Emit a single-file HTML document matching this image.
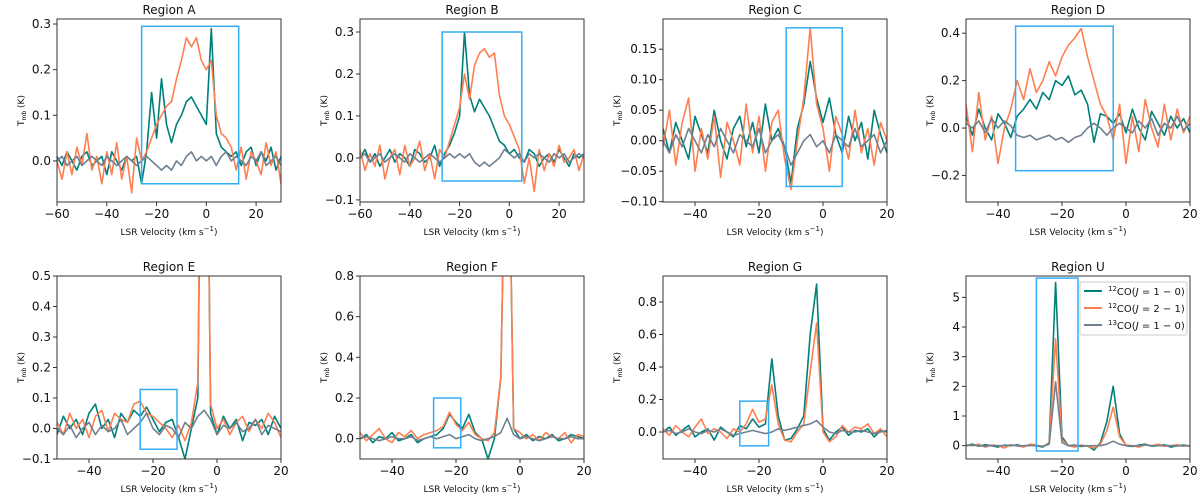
<!DOCTYPE html>
<html><head><meta charset="utf-8"><style>
html,body{margin:0;padding:0;background:#fff;}
svg{display:block;font-family:"DejaVu Sans","Liberation Sans",sans-serif;}
</style></head><body>
<svg id="fig" width="1200" height="498" viewBox="0 0 1200 498"></svg>
<script>
// Velocity grids (km/s)
const gridA = [-60,-58,-56,-54,-52,-50,-48,-46,-44,-42,-40,-38,-36,-34,-32,-30,-28,-26,-24,-22,-20,-18,-16,-14,-12,-10,-8,-6,-4,-2,0,2,4,6,8,10,12,14,16,18,20,22,24,26,28,30];
const gridC = [-50,-48,-46,-44,-42,-40,-38,-36,-34,-32,-30,-28,-26,-24,-22,-20,-18,-16,-14,-12,-10,-8,-6,-4,-2,0,2,4,6,8,10,12,14,16,18,20];
const seriesNames = ["12CO(J=1-0)","12CO(J=2-1)","13CO(J=1-0)"];

const aCO10 = [0.01,-0.01,0.02,0.0,-0.02,0.01,0.02,-0.01,0.0,0.01,-0.03,0.02,0.0,-0.02,0.01,0.0,0.01,-0.05,0.02,0.15,0.05,0.18,0.08,0.04,0.08,0.10,0.13,0.14,0.12,0.10,0.08,0.29,0.06,0.03,0.02,0.01,0.02,-0.01,0.02,0.03,-0.01,0.02,0.0,0.03,-0.02,0.01];
const aCO21 = [0.0,-0.04,0.02,-0.03,0.03,-0.01,0.06,-0.02,0.01,-0.05,0.02,-0.03,0.04,-0.04,0.01,-0.07,0.05,0.0,0.02,0.05,0.08,0.10,0.12,0.13,0.18,0.22,0.27,0.25,0.27,0.22,0.20,0.22,0.10,0.06,0.05,0.03,-0.02,0.03,-0.04,0.02,0.0,-0.03,0.04,-0.01,0.02,-0.05];
const a13CO = [0.0,0.01,-0.01,0.0,0.01,-0.01,0.0,0.01,0.0,-0.01,0.01,0.0,-0.01,0.0,0.01,0.0,-0.01,0.0,0.01,0.0,-0.01,-0.02,-0.01,-0.02,0.0,-0.01,0.01,0.02,0.0,0.01,0.0,0.01,-0.01,0.01,0.02,0.0,0.01,0.0,-0.01,0.01,0.0,0.02,-0.01,0.0,0.01,-0.01];

const bCO10 = [0.0,0.02,-0.01,0.01,-0.02,0.0,0.02,-0.01,0.01,0.0,-0.02,0.02,0.01,-0.01,0.0,0.03,-0.02,0.01,0.03,0.06,0.10,0.30,0.15,0.11,0.14,0.12,0.10,0.07,0.04,0.03,0.01,0.02,0.0,-0.01,0.02,0.01,-0.02,0.0,0.01,-0.01,0.02,0.0,-0.02,0.01,0.0,0.01];
const bCO21 = [0.02,-0.03,0.01,-0.02,0.03,-0.05,0.0,0.02,-0.04,0.03,-0.02,0.0,0.04,-0.03,0.01,-0.05,0.02,0.0,0.04,0.08,0.12,0.20,0.14,0.22,0.25,0.26,0.24,0.25,0.15,0.10,0.08,0.05,0.02,-0.06,0.0,-0.08,0.02,-0.03,0.01,-0.02,0.03,-0.01,0.0,0.02,-0.03,0.01];
const b13CO = [0.0,0.01,-0.01,0.0,0.01,-0.01,0.0,0.01,0.0,-0.01,0.01,0.0,-0.01,0.0,0.01,0.0,-0.01,0.0,0.01,0.0,0.01,0.0,0.01,-0.01,-0.02,-0.01,-0.02,-0.01,0.0,0.02,0.01,0.0,0.01,-0.01,0.01,0.0,0.01,0.0,-0.01,0.01,0.0,0.01,-0.01,0.0,0.01,0.0];

const cCO10 = [0.02,-0.02,0.03,0.0,-0.03,0.04,0.01,-0.02,0.05,0.0,-0.03,0.02,0.04,-0.01,0.03,-0.02,0.06,0.0,0.02,-0.01,-0.07,0.02,0.06,0.13,0.07,0.03,0.07,0.01,-0.02,0.04,0.0,0.03,-0.03,0.05,0.01,-0.02];
const cCO21 = [-0.01,0.05,-0.04,0.03,0.07,-0.05,0.02,-0.03,0.04,-0.06,0.03,0.0,-0.04,0.06,-0.02,0.04,-0.05,0.03,0.05,-0.03,-0.08,0.0,0.07,0.185,0.06,0.02,-0.05,0.04,0.01,-0.03,0.05,-0.02,0.02,-0.04,0.03,0.0];
const c13CO = [0.0,-0.02,0.01,-0.01,0.02,0.0,-0.02,0.01,-0.01,0.02,0.0,-0.02,0.01,0.0,-0.01,0.02,-0.02,0.0,0.01,-0.01,-0.04,-0.02,0.0,0.01,-0.01,0.0,-0.02,0.01,0.0,-0.01,0.02,-0.01,0.0,0.01,-0.02,0.0];

const dCO10 = [0.05,-0.03,0.08,0.0,-0.05,0.06,0.02,-0.04,0.05,0.08,0.12,0.08,0.15,0.12,0.20,0.18,0.22,0.14,0.16,0.10,-0.06,0.06,0.05,0.02,0.06,-0.02,0.08,0.0,-0.05,0.07,0.02,-0.03,0.05,0.0,0.04,-0.02];
const dCO21 = [0.1,-0.1,0.15,-0.05,0.05,-0.15,0.0,0.08,0.2,0.12,0.25,0.15,0.2,0.28,0.22,0.3,0.35,0.38,0.42,0.3,0.2,0.1,0.05,-0.05,0.1,-0.15,0.05,-0.1,0.12,0.0,-0.08,0.1,-0.05,0.08,-0.02,0.05];
const d13CO = [0.02,0.0,0.03,-0.02,0.04,0.0,0.03,0.01,-0.03,-0.04,-0.03,-0.05,-0.04,-0.03,-0.05,-0.04,-0.06,-0.04,-0.03,0.0,0.02,0.0,-0.03,0.0,0.02,0.0,-0.02,0.03,0.0,0.04,-0.03,0.02,0.0,0.05,-0.01,0.02];

const eCO10 = [-0.02,0.04,0.0,0.03,-0.02,0.05,0.08,0.0,0.03,-0.03,0.05,0.02,0.06,0.04,0.07,0.03,-0.01,0.02,0.03,-0.03,-0.1,0.0,0.1,2.0,0.05,-0.02,0.04,0.0,0.03,-0.04,0.02,0.01,0.03,-0.02,0.04,0.0];
const eCO21 = [0.02,-0.02,0.05,0.0,0.03,-0.03,0.04,0.06,-0.01,0.05,0.03,0.02,0.08,0.09,0.05,0.04,0.02,0.0,-0.03,0.01,-0.04,0.02,0.15,2.0,0.08,0.0,0.03,-0.02,0.02,0.04,-0.01,0.03,0.0,0.05,0.02,-0.03];
const e13CO = [0.0,-0.02,0.01,-0.03,0.0,0.02,-0.02,0.01,-0.01,0.0,0.03,-0.02,0.0,0.02,0.05,0.0,-0.02,0.01,0.0,-0.03,0.02,0.0,0.04,0.06,0.03,-0.02,0.01,0.0,0.02,-0.01,0.0,0.03,-0.02,0.01,0.0,-0.01];

const fCO10 = [0.0,0.02,-0.02,0.01,0.0,0.03,-0.01,0.0,0.02,-0.02,0.0,0.01,0.02,0.05,0.12,0.08,0.05,0.12,0.03,0.0,-0.1,0.0,0.3,2.0,0.05,0.0,0.02,-0.01,0.01,0.0,0.02,-0.01,0.0,0.02,0.01,0.0];
const fCO21 = [0.03,-0.01,0.02,0.05,0.0,-0.02,0.03,0.01,0.04,0.0,0.02,0.03,0.04,0.06,0.13,0.07,0.04,0.08,0.02,0.0,-0.01,0.03,0.3,2.0,0.05,0.03,0.0,0.02,-0.01,0.03,0.01,0.0,0.03,-0.02,0.02,0.01];
const f13CO = [0.0,0.01,0.0,-0.01,0.0,0.01,0.0,0.0,0.01,-0.01,0.0,0.01,0.0,0.01,0.02,0.0,0.01,0.02,0.0,-0.01,0.0,0.01,0.03,0.1,0.02,0.0,0.01,0.0,-0.01,0.0,0.01,0.0,0.0,0.01,0.0,0.0];

const gCO10 = [0.0,0.03,-0.02,0.01,0.04,-0.03,0.0,0.02,-0.05,0.03,0.0,-0.03,0.04,0.02,0.08,0.03,0.05,0.45,0.1,-0.05,-0.04,0.02,0.1,0.6,0.91,0.02,-0.05,0.0,0.03,-0.02,0.01,0.0,0.02,-0.03,0.01,0.0];
const gCO21 = [0.02,-0.02,0.04,0.0,-0.03,0.03,0.08,-0.01,0.02,0.0,-0.04,0.02,0.0,0.05,0.14,0.06,0.08,0.29,0.05,-0.05,-0.06,0.0,0.05,0.37,0.67,0.0,-0.06,-0.03,0.04,0.0,0.03,0.02,0.05,-0.01,0.02,-0.03];
const g13CO = [0.0,0.01,-0.01,0.0,0.02,0.0,-0.01,0.01,0.0,0.02,0.0,-0.02,-0.01,0.0,0.01,0.0,-0.01,0.0,0.02,0.01,0.02,0.03,0.04,0.05,0.07,0.03,0.0,-0.01,0.01,0.0,0.0,0.01,0.0,-0.01,0.0,0.01];

const uCO10 = [0.0,0.05,-0.02,0.03,0.0,-0.05,0.02,0.0,0.03,-0.03,0.02,0.0,-0.05,0.1,5.5,0.3,0.0,0.02,-0.03,0.0,-0.15,0.1,0.8,2.0,0.4,0.0,-0.03,0.02,0.05,-0.02,0.0,0.03,-0.05,0.0,0.02,-0.02];
const uCO21 = [0.03,0.0,0.05,-0.05,0.02,0.0,-0.08,0.03,0.0,-0.05,0.05,0.02,-0.03,0.08,3.6,0.2,0.0,-0.05,0.02,-0.02,-0.08,0.05,0.5,1.3,0.3,0.02,0.0,-0.05,0.03,0.0,0.05,-0.02,0.0,0.03,-0.02,0.0];
const u13CO = [0.0,0.02,0.0,-0.02,0.01,0.0,0.0,0.02,-0.01,0.0,0.01,0.0,-0.02,0.05,2.15,0.1,0.0,0.01,0.0,-0.01,0.0,0.0,0.05,0.15,0.05,0.0,-0.01,0.0,0.02,0.0,0.0,0.01,0.0,-0.01,0.0,0.0];

// Panel data (limits / ticks)
const titles = ["Region A","Region B","Region C","Region D","Region E","Region F","Region G","Region U"];
const xLims = [[-60,30],[-60,30],[-50,20],[-50,20],[-50,20],[-50,20],[-50,20],[-50,20]];
const yLims = [[-0.09,0.311],[-0.105,0.331],[-0.1005,0.1995],[-0.312,0.46],[-0.1,0.5],[-0.1,0.8],[-0.166,0.96],[-0.45,5.72]];
const xTicks = [[-60,-40,-20,0,20],[-60,-40,-20,0,20],[-40,-20,0,20],[-40,-20,0,20],[-40,-20,0,20],[-40,-20,0,20],[-40,-20,0,20],[-40,-20,0,20]];
const yTicks = [["0.0","0.1","0.2","0.3"],["−0.1","0.0","0.1","0.2","0.3"],["−0.10","−0.05","0.00","0.05","0.10","0.15"],["−0.2","0.0","0.2","0.4"],["−0.1","0.0","0.1","0.2","0.3","0.4","0.5"],["0.0","0.2","0.4","0.6","0.8"],["0.0","0.2","0.4","0.6","0.8"],["0","1","2","3","4","5"]];
const boxes = [[-26,13,-0.05,0.295],[-27,5,-0.055,0.3],[-11.5,6,-0.075,0.185],[-34.5,-4,-0.18,0.43],[-24,-12.5,-0.068,0.128],[-27,-18.5,-0.045,0.2],[-26,-17,-0.085,0.19],[-28,-15,-0.18,5.65]];
const grids = [gridA,gridA,gridC,gridC,gridC,gridC,gridC,gridC];
const co10 = [aCO10,bCO10,cCO10,dCO10,eCO10,fCO10,gCO10,uCO10];
const co21 = [aCO21,bCO21,cCO21,dCO21,eCO21,fCO21,gCO21,uCO21];
const co13 = [a13CO,b13CO,c13CO,d13CO,e13CO,f13CO,g13CO,u13CO];

const lefts = [57,360,663,966];
const W = 224;
const rowTop = [19,276], rowBot = [202,459];
const colors = ["#00807a","#ff7f50","#708090"];
const NS = "http://www.w3.org/2000/svg";
const svg = document.getElementById('fig');
function el(tag, attrs, parent){ const e=document.createElementNS(NS,tag); for(const k in attrs) e.setAttribute(k,attrs[k]); (parent||svg).appendChild(e); return e; }

for(let p=0;p<8;p++){
  const L = lefts[p%4], R = L+W, T = rowTop[Math.floor(p/4)], B = rowBot[Math.floor(p/4)];
  const [x0,x1]=xLims[p], [y0,y1]=yLims[p];
  const sx = v => L + (v-x0)/(x1-x0)*(R-L);
  const sy = v => B - (v-y0)/(y1-y0)*(B-T);
  const g = el('g',{});
  
  
  const cp = el('clipPath',{id:'cp'+p},g);
  el('rect',{x:L,y:T,width:R-L,height:B-T},cp);
  const series=[co10[p],co21[p],co13[p]];
  const sn=['line-12co-1-0','line-12co-2-1','line-13co-1-0'];
  series.forEach((arr,si)=>{
    const pts = arr.map((v,i)=>sx(grids[p][i]).toFixed(1)+','+sy(v).toFixed(1)).join(' ');
    const pl = el('polyline',{points:pts,fill:'none',stroke:colors[si],'stroke-width':1.6,'stroke-linejoin':'round','clip-path':'url(#cp'+p+')'},g);
    
    
  });
  const bx=boxes[p];
  const br = el('rect',{x:sx(bx[0]),y:sy(bx[3]),width:sx(bx[1])-sx(bx[0]),height:sy(bx[2])-sy(bx[3]),fill:'none',stroke:'#33aef5','stroke-width':1.5},g);
  
  
  const fr = el('rect',{x:L,y:T,width:R-L,height:B-T,fill:'none',stroke:'#333','stroke-width':1},g);
  
  
  xTicks[p].forEach(v=>{
    const x=sx(v);
    el('line',{x1:x,y1:B,x2:x,y2:B+4,stroke:'#333'},g);
    const t=el('text',{x:x,y:B+16,'font-size':12,'text-anchor':'middle',fill:'#111'},g);
    t.textContent = v<0 ? '−'+Math.abs(v) : String(v);
    
    
  });
  yTicks[p].forEach(s=>{
    const v=parseFloat(s.replace('−','-')); const y=sy(v);
    el('line',{x1:L-4,y1:y,x2:L,y2:y,stroke:'#333'},g);
    const t=el('text',{x:L-6,y:y+4,'font-size':12,'text-anchor':'end',fill:'#111'},g);
    t.textContent=s;
    
    
  });
  const tt=el('text',{x:(L+R)/2,y:T-5,'font-size':12,'text-anchor':'middle',fill:'#111'},g);
  tt.textContent=titles[p];
  
  
  const xl=el('text',{x:(L+R)/2,y:B+33,'font-size':9,'text-anchor':'middle',fill:'#111'},g);
  xl.innerHTML='LSR Velocity (km s<tspan dy="-4" font-size="7">−1</tspan><tspan dy="4">)</tspan>';
  
  
  const yx = L - (p%4===2 ? 43 : 33);
  const yl=el('text',{x:0,y:0,'font-size':9,'text-anchor':'middle',fill:'#111',transform:'translate('+yx+','+((T+B)/2)+') rotate(-90)'},g);
  yl.innerHTML='T<tspan dy="2" font-size="6">mb</tspan><tspan dy="-2"> (K)</tspan>';
  
  
}
// Legend in Region U
const lg = el('g',{});


el('rect',{x:1080,y:282,width:107,height:53,fill:'#fff',stroke:'#ccc','stroke-width':1,rx:2},lg);
const legText=[['12','CO(','J',' = 1 − 0)'],['12','CO(','J',' = 2 − 1)'],['13','CO(','J',' = 1 − 0)']];
legText.forEach((lt,i)=>{
  const y=291+i*17;
  const ln=el('line',{x1:1084,y1:y,x2:1102,y2:y,stroke:colors[i],'stroke-width':2},lg);
  
  
  const t=el('text',{x:1108,y:y+4,'font-size':10,fill:'#111'},lg);
  t.innerHTML='<tspan dy="-4" font-size="7">'+lt[0]+'</tspan><tspan dy="4">'+lt[1]+'</tspan><tspan font-style="italic">'+lt[2]+'</tspan>'+lt[3];
  
  
});
</script>
</body></html>
